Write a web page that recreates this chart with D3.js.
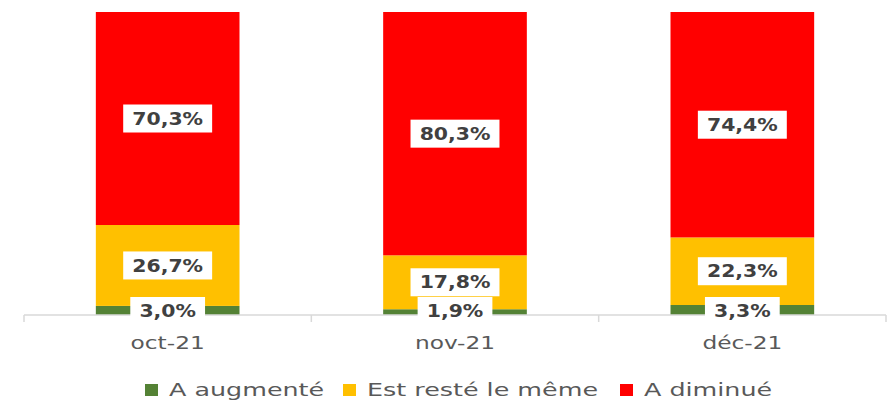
<!DOCTYPE html>
<html>
<head>
<meta charset="utf-8">
<script src="https://cdn.jsdelivr.net/npm/d3@7"></script>
<style>
  body { margin: 0; background: #fff; }
  svg { font-family: "DejaVu Sans", Verdana, sans-serif; }
</style>
</head>
<body>
<svg id="drawing_region"></svg>
<script>
const months = ["oct-21", "nov-21", "déc-21"];
const seriesNames = ["A augmenté", "Est resté le même", "A diminué"];
const seriesColors = ["#548235", "#FFC000", "#FF0000"];
const augmente = [3.0, 1.9, 3.3];
const resteMeme = [26.7, 17.8, 22.3];
const diminue = [70.3, 80.3, 74.4];

const config = {
    width: 890,
    height: 400,
    margin: {top: 12, right: 4, bottom: 85, left: 24}
};

// the original text is rendered wide, stretch glyphs horizontally
const textStretch = 1.37;
const legendStretch = 1.41;
const labelStretch = 1.2;

const rows = months.map((m, i) => ({
    month: m,
    [seriesNames[0]]: augmente[i],
    [seriesNames[1]]: resteMeme[i],
    [seriesNames[2]]: diminue[i]
}));

const svg = d3.select('#drawing_region')
    .attr('width', config.width)
    .attr('height', config.height);

const inner_width = config.width - config.margin.left - config.margin.right;
const inner_height = config.height - config.margin.top - config.margin.bottom;

const chart = svg.append('g')
    .attr('transform', `translate(${config.margin.left}, ${config.margin.top})`);

const xscale = d3.scaleBand()
    .domain(months)
    .range([0, inner_width])
    .paddingInner(0.5)
    .paddingOuter(0.25);

const yscale = d3.scaleLinear()
    .domain([0, 100])
    .range([inner_height, 0]);

const color = d3.scaleOrdinal().domain(seriesNames).range(seriesColors);

const stack = d3.stack().keys(seriesNames)(rows);

// bars
const layers = chart.selectAll('.layer')
    .data(stack)
    .enter()
    .append('g')
    .attr('class', 'layer')
    .attr('fill', d => color(d.key));

layers.selectAll('rect')
    .data(d => d)
    .enter()
    .append('rect')
    .attr('x', d => xscale(d.data.month))
    .attr('y', d => yscale(d[1]))
    .attr('width', xscale.bandwidth())
    .attr('height', d => yscale(d[0]) - yscale(d[1]));

// axis
const step = xscale.step();
const axis_g = chart.append('g')
    .attr('transform', `translate(0, ${inner_height})`);
axis_g.append('line')
    .attr('x1', 0).attr('x2', inner_width)
    .attr('stroke', '#d9d9d9').attr('stroke-width', 1.5);
axis_g.selectAll('.tick')
    .data(d3.range(months.length + 1))
    .enter()
    .append('line')
    .attr('x1', i => i * step).attr('x2', i => i * step)
    .attr('y1', 0).attr('y2', 7)
    .attr('stroke', '#d9d9d9').attr('stroke-width', 1.5);
axis_g.selectAll('.mlabel')
    .data(months)
    .enter()
    .append('text')
    .attr('transform', d => `translate(${xscale(d) + xscale.bandwidth() / 2}, 34) scale(${textStretch}, 1)`)
    .attr('text-anchor', 'middle')
    .attr('font-size', 17)
    .attr('fill', '#595959')
    .text(d => d);

// data labels
const fmt = v => d3.format('.1f')(v).replace('.', ',') + '%';
const labels = [];
stack.forEach(layer => {
    layer.forEach(d => {
        labels.push({
            x: xscale(d.data.month) + xscale.bandwidth() / 2,
            y: (yscale(d[0]) + yscale(d[1])) / 2,
            v: d[1] - d[0],
            key: layer.key
        });
    });
});

const lab = chart.selectAll('.dlabel')
    .data(labels)
    .enter()
    .append('g')
    .attr('class', 'dlabel')
    .attr('transform', d => `translate(${d.x}, ${d.key === seriesNames[0] ? inner_height - 4 : d.y})`);

lab.append('text')
    .attr('text-anchor', 'middle')
    .attr('dy', '0.36em')
    .attr('transform', `scale(${labelStretch}, 1)`)
    .attr('font-size', 17)
    .attr('font-weight', 'bold')
    .attr('fill', '#404040')
    .text(d => fmt(d.v));

lab.each(function() {
    const g = d3.select(this);
    const w = g.select('text').node().getBBox().width * labelStretch;
    g.insert('rect', 'text')
        .attr('x', -w / 2 - 9)
        .attr('y', -14)
        .attr('width', w + 18)
        .attr('height', 28)
        .attr('fill', '#fff');
});

// legend
const legendX = [145, 343, 620];
const legend = svg.append('g');
const li = legend.selectAll('g')
    .data(seriesNames)
    .enter()
    .append('g')
    .attr('transform', (d, i) => `translate(${legendX[i]}, 390)`);
li.append('rect')
    .attr('x', 0).attr('y', -6)
    .attr('width', 13).attr('height', 12)
    .attr('fill', d => color(d));
li.append('text')
    .attr('transform', `translate(24, 0) scale(${legendStretch}, 1)`)
    .attr('dy', '0.36em')
    .attr('font-size', 18)
    .attr('fill', '#595959')
    .text(d => d);
</script>
</body>
</html>
